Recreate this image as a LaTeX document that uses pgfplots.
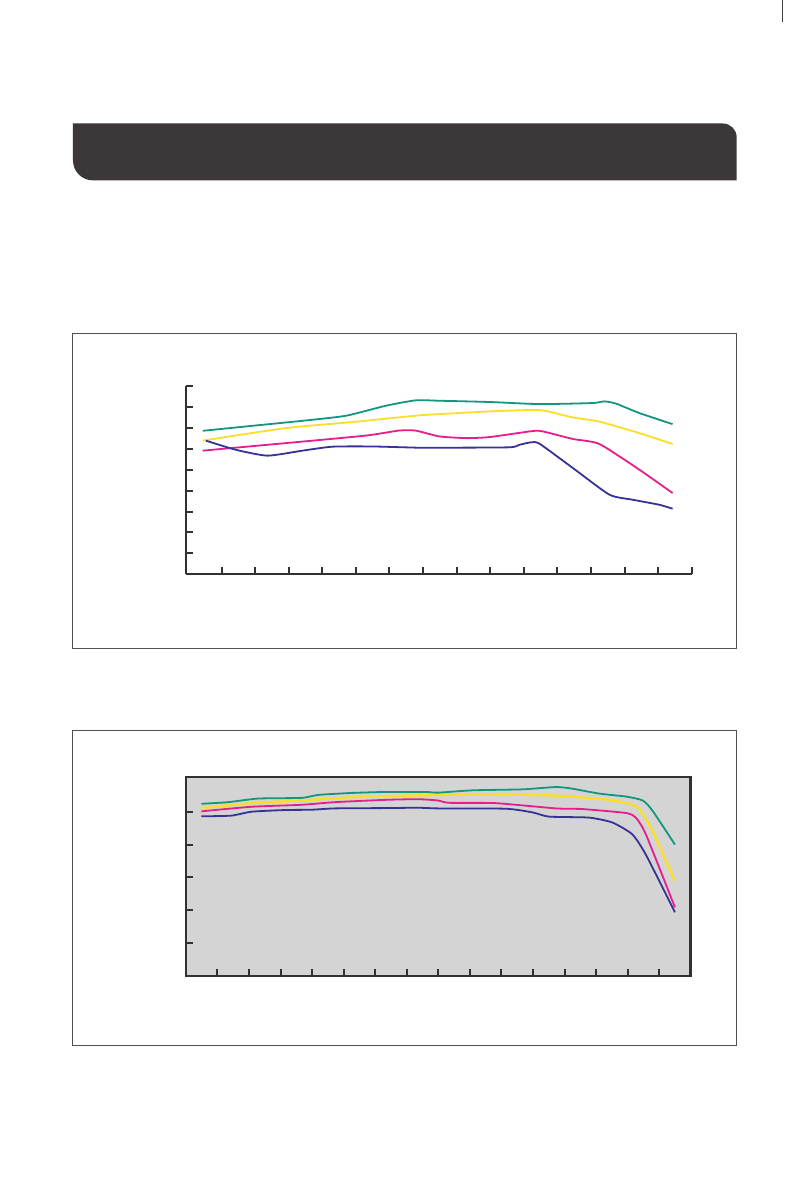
\documentclass[border=0pt]{standalone}
\usepackage{pgfplots}
\pgfplotsset{compat=1.18}
\definecolor{bannercol}{RGB}{60,55,56}
\definecolor{axisgray}{RGB}{50,48,48}
\definecolor{boxgray}{RGB}{80,80,80}
\definecolor{bggray}{RGB}{212,212,212}
\definecolor{cteal}{RGB}{20,150,125}
\definecolor{cyellow}{RGB}{250,222,40}
\definecolor{cpink}{RGB}{230,30,140}
\definecolor{cnavy}{RGB}{55,50,150}
\begin{document}
\begin{tikzpicture}
% page
\fill[white] (0pt,0pt) rectangle (808pt,1191pt);
\draw[black!75, line width=1pt] (783pt,1191pt) -- (783pt,1169pt);
% banner
\fill[bannercol] (73pt,1068pt) -- (723pt,1068pt) arc(90:0:14pt) -- (737pt,1011pt) -- (93pt,1011pt) arc(270:180:20pt) -- cycle;
% frames
\draw[boxgray, line width=1pt] (73pt,543pt) rectangle (737pt,858pt);
\draw[boxgray, line width=1pt] (73pt,146pt) rectangle (737pt,461pt);

\begin{axis}[at={(186pt,617pt)}, anchor=south west, scale only axis,
  width=506pt, height=188pt,
  xmin=-0.06, xmax=15, ymin=0, ymax=9,
  axis lines=left,
  axis line style={-, line width=2.4pt, color=axisgray},
  xtick={1,...,15}, ytick={1,...,9},
  xticklabels={}, yticklabels={},
  tick align=inside, major tick length=7pt,
  tick style={line width=2pt, color=axisgray},
  every axis plot/.append style={line width=1.8pt, smooth, tension=0.35, no marks},
  clip=false]
\addplot[cteal] coordinates {(0.44,6.87) (1.92,7.11) (3.41,7.35) (4.70,7.59) (5.89,8.07) (6.78,8.33) (7.49,8.31) (8.98,8.25) (10.47,8.15) (12.05,8.20) (12.40,8.28) (12.75,8.17) (13.44,7.72) (14.43,7.19)};
\addplot[cyellow] coordinates {(0.44,6.40) (2.91,7.00) (4.90,7.29) (6.88,7.61) (7.49,7.67) (8.98,7.80) (10.27,7.87) (10.67,7.82) (11.46,7.51) (12.25,7.31) (13.44,6.76) (14.43,6.24)};
\addplot[cpink] coordinates {(0.44,5.92) (2.91,6.28) (5.29,6.64) (6.28,6.88) (6.78,6.88) (7.49,6.60) (8.29,6.52) (8.98,6.57) (10.27,6.86) (10.57,6.84) (11.46,6.48) (12.25,6.24) (13.44,5.01) (14.43,3.89)};
\addplot[cnavy] coordinates {(0.535,6.40) (1.43,5.96) (2.37,5.68) (3.41,5.92) (4.30,6.11) (5.49,6.12) (6.88,6.06) (7.49,6.06) (9.57,6.08) (9.87,6.20) (10.22,6.32) (10.47,6.25) (11.46,5.09) (12.55,3.81) (13.24,3.57) (14.03,3.33) (14.43,3.14)};
\end{axis}

\begin{axis}[at={(186pt,215pt)}, anchor=south west, scale only axis,
  width=505pt, height=199pt,
  xmin=0, xmax=16, ymin=0, ymax=6.05,
  axis background/.style={fill=bggray},
  axis line style={line width=2.6pt, color=axisgray},
  xtick={1,...,15}, ytick={1,...,5},
  xticklabels={}, yticklabels={},
  xtick pos=bottom, ytick pos=left,
  tick align=inside, major tick length=7pt,
  tick style={line width=2pt, color=axisgray},
  every axis plot/.append style={line width=1.8pt, smooth, tension=0.35, no marks}]
\addplot[cnavy] coordinates {(0.49,4.86) (1.44,4.88) (2.08,5.00) (3.13,5.05) (3.98,5.06) (4.72,5.10) (6.31,5.11) (7.36,5.12) (8.0,5.10) (10.14,5.09) (10.98,4.98) (11.51,4.85) (12.78,4.82) (13.52,4.67) (14.15,4.31) (14.58,3.69) (15.5,1.94)};
\addplot[cpink] coordinates {(0.49,5.01) (2.08,5.15) (3.67,5.21) (4.72,5.29) (6.31,5.36) (7.36,5.38) (8.0,5.34) (8.34,5.27) (9.82,5.26) (11.73,5.10) (12.57,5.08) (13.95,4.96) (14.26,4.82) (14.58,4.31) (15.5,2.09)};
\addplot[cyellow, line width=2.4pt] coordinates {(0.49,5.11) (2.08,5.26) (3.67,5.34) (5.25,5.44) (8.0,5.51) (10.14,5.53) (11.73,5.49) (13.31,5.37) (14.05,5.24) (14.37,5.08) (14.79,4.41) (15.5,2.89)};
\addplot[cteal] coordinates {(0.49,5.24) (1.34,5.29) (2.29,5.40) (3.67,5.42) (4.19,5.51) (5.25,5.57) (6.31,5.60) (7.58,5.60) (8.0,5.58) (9.08,5.65) (10.67,5.68) (11.73,5.75) (12.25,5.70) (13.1,5.55) (13.95,5.46) (14.48,5.34) (14.79,5.03) (15.5,4.0)};
\end{axis}
\end{tikzpicture}
\end{document}
